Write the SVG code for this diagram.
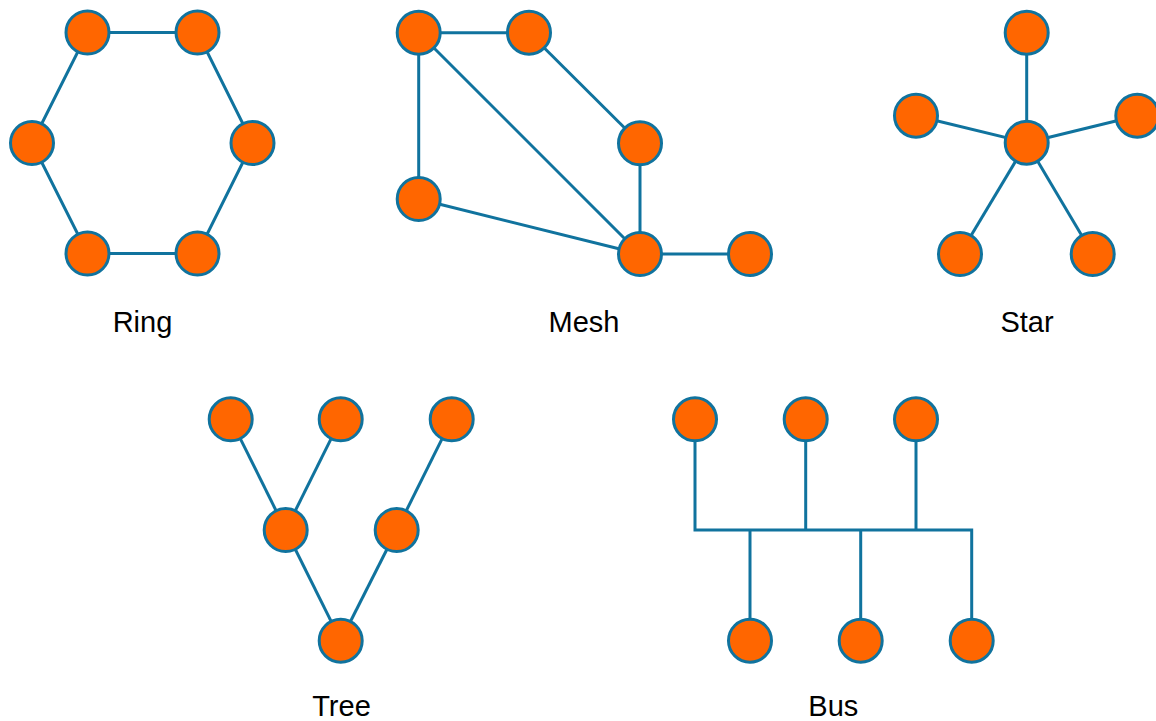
<svg xmlns="http://www.w3.org/2000/svg" width="1156" height="721" viewBox="0 0 1156 721">
<style>
.n{fill:#FF6600;stroke:#10739E;stroke-width:3}
.e{fill:none;stroke:#10739E;stroke-width:3}
.t{font-family:"Liberation Sans",Arial,sans-serif;font-size:29px;fill:#000;text-anchor:middle}
</style>
<rect width="1156" height="721" fill="#fff"/>
<g id="connectors">
<polygon class="e" points="87.5,32.5 197.5,32.5 252.5,143 197.5,253.5 87.5,253.5 32,143"/>
<line class="e" x1="418.7" y1="32.7" x2="529" y2="32.7"/>
<line class="e" x1="418.7" y1="32.7" x2="418.7" y2="199"/>
<line class="e" x1="418.7" y1="32.7" x2="640" y2="254"/>
<line class="e" x1="529" y1="32.7" x2="640" y2="143.3"/>
<line class="e" x1="640" y1="143.3" x2="640" y2="254"/>
<line class="e" x1="418.7" y1="199" x2="640" y2="254"/>
<line class="e" x1="640" y1="254" x2="750" y2="254"/>
<line class="e" x1="1026.7" y1="142.7" x2="1026.7" y2="32.7"/>
<line class="e" x1="1026.7" y1="142.7" x2="916" y2="115.7"/>
<line class="e" x1="1026.7" y1="142.7" x2="1137.3" y2="115.7"/>
<line class="e" x1="1026.7" y1="142.7" x2="960" y2="254"/>
<line class="e" x1="1026.7" y1="142.7" x2="1092.7" y2="254"/>
<line class="e" x1="230.7" y1="419.3" x2="285.7" y2="530"/>
<line class="e" x1="340.7" y1="419.3" x2="285.7" y2="530"/>
<line class="e" x1="451.7" y1="419.3" x2="396.7" y2="530"/>
<line class="e" x1="285.7" y1="530" x2="340.7" y2="640.7"/>
<line class="e" x1="396.7" y1="530" x2="340.7" y2="640.7"/>
<polyline class="e" points="695,419.3 695,530 971.7,530 971.7,640.7"/>
<line class="e" x1="805.7" y1="419.3" x2="805.7" y2="530"/>
<line class="e" x1="916" y1="419.3" x2="916" y2="530"/>
<line class="e" x1="750" y1="530" x2="750" y2="640.7"/>
<line class="e" x1="860.7" y1="530" x2="860.7" y2="640.7"/>
</g>
<g id="ring">
<circle class="n" cx="87.5" cy="32.5" r="21.5"/>
<circle class="n" cx="197.5" cy="32.5" r="21.5"/>
<circle class="n" cx="32" cy="143" r="21.5"/>
<circle class="n" cx="252.5" cy="143" r="21.5"/>
<circle class="n" cx="87.5" cy="253.5" r="21.5"/>
<circle class="n" cx="197.5" cy="253.5" r="21.5"/>
<text class="t" x="142.5" y="331.5">Ring</text>
</g>
<g id="mesh">
<circle class="n" cx="418.7" cy="32.7" r="21.5"/>
<circle class="n" cx="529" cy="32.7" r="21.5"/>
<circle class="n" cx="640" cy="143.3" r="21.5"/>
<circle class="n" cx="418.7" cy="199" r="21.5"/>
<circle class="n" cx="640" cy="254" r="21.5"/>
<circle class="n" cx="750" cy="254" r="21.5"/>
<text class="t" x="584" y="331.5">Mesh</text>
</g>
<g id="star">
<circle class="n" cx="1026.7" cy="32.7" r="21.5"/>
<circle class="n" cx="916" cy="115.7" r="21.5"/>
<circle class="n" cx="1137.3" cy="115.7" r="21.5"/>
<circle class="n" cx="1026.7" cy="142.7" r="21.5"/>
<circle class="n" cx="960" cy="254" r="21.5"/>
<circle class="n" cx="1092.7" cy="254" r="21.5"/>
<text class="t" x="1027" y="331.5">Star</text>
</g>
<g id="tree">
<circle class="n" cx="230.7" cy="419.3" r="21.5"/>
<circle class="n" cx="340.7" cy="419.3" r="21.5"/>
<circle class="n" cx="451.7" cy="419.3" r="21.5"/>
<circle class="n" cx="285.7" cy="530" r="21.5"/>
<circle class="n" cx="396.7" cy="530" r="21.5"/>
<circle class="n" cx="340.7" cy="640.7" r="21.5"/>
<text class="t" x="341.5" y="716">Tree</text>
</g>
<g id="bus">
<circle class="n" cx="695" cy="419.3" r="21.5"/>
<circle class="n" cx="805.7" cy="419.3" r="21.5"/>
<circle class="n" cx="916" cy="419.3" r="21.5"/>
<circle class="n" cx="750" cy="640.7" r="21.5"/>
<circle class="n" cx="860.7" cy="640.7" r="21.5"/>
<circle class="n" cx="971.7" cy="640.7" r="21.5"/>
<text class="t" x="833.3" y="716">Bus</text>
</g>
</svg>
